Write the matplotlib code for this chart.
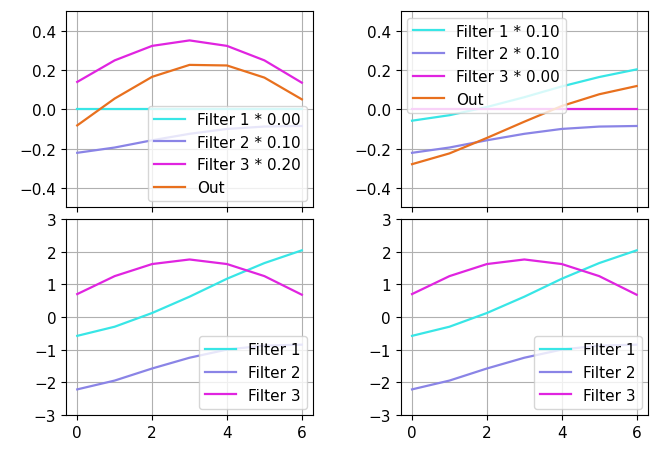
import numpy as np
import matplotlib
matplotlib.use("Agg")
import matplotlib.pyplot as plt

plt.rcParams["font.size"] = 11

x = [0, 1, 2, 3, 4, 5, 6]
filter1 = [-0.58, -0.30, 0.12, 0.62, 1.17, 1.65, 2.04]
filter2 = [-2.22, -1.95, -1.58, -1.25, -1.00, -0.88, -0.85]
filter3 = [0.70, 1.25, 1.62, 1.76, 1.62, 1.25, 0.68]

weights_left = [0.00, 0.10, 0.20]
weights_right = [0.10, 0.10, 0.00]

names = ["Filter 1", "Filter 2", "Filter 3"]
colors = ["#38e6e6", "#8a84e6", "#e024e0"]
out_color = "#e8701e"

filters = [np.array(filter1), np.array(filter2), np.array(filter3)]

fig, axes = plt.subplots(2, 2, figsize=(6.7, 4.6), dpi=100, sharex=True)
fig.subplots_adjust(left=0.0985, right=0.967, top=0.973, bottom=0.096,
                    wspace=0.355, hspace=0.06)

for col, (w, loc) in enumerate([(weights_left, "lower right"), (weights_right, "upper left")]):
    ax = axes[0, col]
    out = np.zeros(len(x))
    for f, wi, n, c in zip(filters, w, names, colors):
        ax.plot(x, f * wi, color=c, lw=1.6, label=f"{n} * {wi:.2f}")
        out = out + f * wi
    ax.plot(x, out, color=out_color, lw=1.6, label="Out")
    ax.set_ylim(-0.5, 0.5)
    ax.set_yticks([-0.4, -0.2, 0.0, 0.2, 0.4])
    ax.grid(True)
    ax.legend(loc=loc, borderaxespad=0.4)

    axb = axes[1, col]
    for f, n, c in zip(filters, names, colors):
        axb.plot(x, f, color=c, lw=1.6, label=n)
    axb.set_ylim(-3, 3)
    axb.set_yticks([-3, -2, -1, 0, 1, 2, 3])
    axb.set_xticks([0, 2, 4, 6])
    axb.grid(True)
    axb.legend(loc="lower right", borderaxespad=0.4)

fig.savefig("out.png")
